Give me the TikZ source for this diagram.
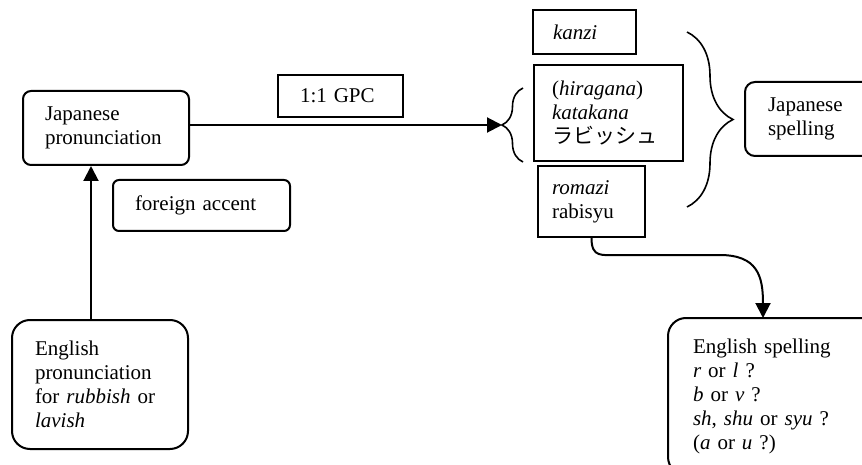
\documentclass[tikz,border=0pt]{standalone}
\usepackage{fontspec}
\setmainfont{Liberation Serif}
\newfontfamily\jpfont{Noto Sans CJK JP}
\usetikzlibrary{arrows.meta,decorations.pathreplacing}

\begin{document}
\begin{tikzpicture}[
    x=1pt, y=-1pt,
    every node/.style={font=\fontsize{21}{24}\selectfont},
    box/.style={draw, line width=2pt, inner sep=0pt, align=left},
    roundbox/.style={box, rounded corners=#1},
    arr/.style={line width=2pt, -{Triangle[length=15pt,width=15pt]}},
    curly/.style={decorate, line width=1.6pt,
                  decoration={brace, amplitude=#1}}
  ]
    \clip (0,0) rectangle (862,465);

    % Lado izquierdo: pronunciaciones
    \node[roundbox=8pt, minimum width=166pt, minimum height=74pt,
          text width=122pt] (jpron) at (106,128) {Japanese\\pronunciation};
    \node[roundbox=6pt, minimum width=177pt, minimum height=51pt,
          text width=133pt] (accent) at (201.5,205.5) {foreign accent};
    \node[roundbox=18pt, minimum width=176pt, minimum height=129pt,
          text width=130pt] (engpron) at (100,384.5)
          {English\\pronunciation\\\makebox[129pt][s]{for \textit{rubbish} or}\\\textit{lavish}};
    \node[box, minimum width=125pt, minimum height=42pt,
          text width=81pt] (gpc) at (340.5,96) {1:1 GPC};

    % Escrituras japonesas
    \node[box, minimum width=103pt, minimum height=44pt,
          text width=63pt] (kanzi) at (584.5,32) {\textit{kanzi}};
    \node[box, minimum width=149pt, minimum height=96pt,
          text width=113pt] (hira) at (608.5,113)
          {(\textit{hiragana})\\\textit{katakana}\\{\jpfont ラビッシュ}};
    \node[box, minimum width=107pt, minimum height=71pt,
          text width=79pt] (rom) at (591.5,201.5) {\textit{romazi}\\rabisyu};

    % Lado derecho
    \node[roundbox=10pt, minimum width=135pt, minimum height=74pt,
          text width=89pt] (jspell) at (812.5,119) {Japanese\\spelling};
    \node[roundbox=18pt, minimum width=212pt, minimum height=157pt,
          text width=162pt] (engsp) at (774,396.5)
          {English spelling\\\textit{r} or \textit{l} ?\\\textit{b} or \textit{v} ?\\
           \textit{sh}, \textit{shu} or \textit{syu} ?\\(\textit{a} or \textit{u} ?)};

    % Llaves
    \coordinate (ltip) at (502,125);
    \draw[curly=21pt] (523,162) -- (523,88);
    \draw[curly=46pt] (687,32) -- (687,207);

    % Conexiones
    \coordinate (vbase) at (91,320);
    \coordinate (etip) at (763,318);
    \draw[arr] (jpron.east |- ltip) -- (ltip);
    \draw[arr] (vbase) -- (vbase |- jpron.south);
    \draw[arr] (rom.south) .. controls +(0,20) and +(-18,0) .. ++(28,17)
        -- ++(100,0) .. controls +(38,0) and +(0,-42) .. (etip);
\end{tikzpicture}
\end{document}
